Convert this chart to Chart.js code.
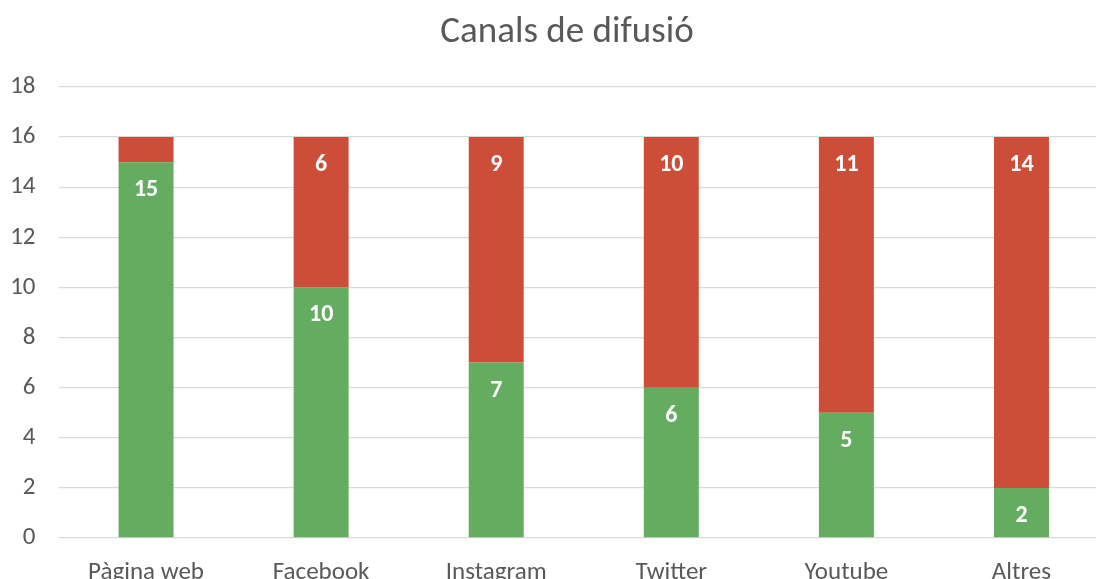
<!DOCTYPE html>
<html>
<head>
<meta charset="utf-8">
<script src="https://cdn.jsdelivr.net/npm/chart.js@4"></script>
<style>
    html, body { margin: 0; padding: 0; overflow: hidden; background: #fff; }
    #wrap { width: 1109px; height: 600px; }
</style>
</head>
<body>
<div id="wrap"><canvas id="chart" width="1109" height="600"></canvas></div>
<script>
// Chart data
const categories = ['Pàgina web', 'Facebook', 'Instagram', 'Twitter', 'Youtube', 'Altres'];
const greenValues = [15, 10, 7, 6, 5, 2];
const redValues = [1, 6, 9, 10, 11, 14];
const redLabels = [null, 6, 9, 10, 11, 14];
const yTicks = [0, 2, 4, 6, 8, 10, 12, 14, 16, 18];

const textColor = '#595959';
const fontFamily = "Calibri, Carlito, Lato, 'Open Sans', sans-serif";

// Title drawn by hand so it can sit where the original put it
const titlePlugin = {
    id: 'titlePlugin',
    afterDraw(chart) {
        const ctx = chart.ctx;
        ctx.save();
        ctx.fillStyle = textColor;
        ctx.font = '37px ' + fontFamily;
        ctx.textAlign = 'center';
        ctx.textBaseline = 'middle';
        ctx.fillText('Canals de difusió', 567, 33);
        ctx.restore();
    }
};

// White labels inside the top of each segment
const valueLabels = {
    id: 'valueLabels',
    afterDatasetsDraw(chart) {
        const ctx = chart.ctx;
        ctx.save();
        ctx.fillStyle = '#ffffff';
        ctx.font = 'bold 24px ' + fontFamily;
        ctx.textAlign = 'center';
        ctx.textBaseline = 'middle';
        chart.data.datasets.forEach((ds, i) => {
            const meta = chart.getDatasetMeta(i);
            meta.data.forEach((bar, j) => {
                const label = ds.shownLabels[j];
                if (label === null) return;
                ctx.fillText(String(label), bar.x, bar.y + 28);
            });
        });
        ctx.restore();
    }
};

new Chart(document.getElementById('chart'), {
    type: 'bar',
    data: {
        labels: categories,
        datasets: [{
            label: 'Sí',
            data: greenValues,
            shownLabels: greenValues,
            backgroundColor: '#63ac60'
        }, {
            label: 'No',
            data: redValues,
            shownLabels: redLabels,
            backgroundColor: '#cc4d38'
        }]
    },
    options: {
        responsive: false,
        animation: false,
        layout: { padding: { top: 87, left: 0, right: 0, bottom: 0 } },
        datasets: {
            bar: { categoryPercentage: 1, barPercentage: 0.314 }
        },
        plugins: {
            legend: { display: false },
            title: { display: false },
            tooltip: { enabled: false }
        },
        scales: {
            x: {
                stacked: true,
                grid: { display: false },
                border: { display: false },
                ticks: {
                    color: textColor,
                    font: { family: fontFamily, size: 25 },
                    padding: 12,
                    maxRotation: 0
                },
                afterFit(scale) { scale.height = 62; }
            },
            y: {
                stacked: true,
                min: 0,
                max: 18,
                afterBuildTicks(scale) {
                    scale.ticks = yTicks.map(v => ({ value: v }));
                },
                grid: { color: '#d9d9d9', lineWidth: 1.3, drawTicks: false },
                border: { display: false },
                ticks: {
                    color: textColor,
                    font: { family: fontFamily, size: 25 },
                    padding: 23
                },
                afterFit(scale) { scale.width = 58.5; }
            }
        }
    },
    plugins: [titlePlugin, valueLabels]
});
</script>
</body>
</html>
